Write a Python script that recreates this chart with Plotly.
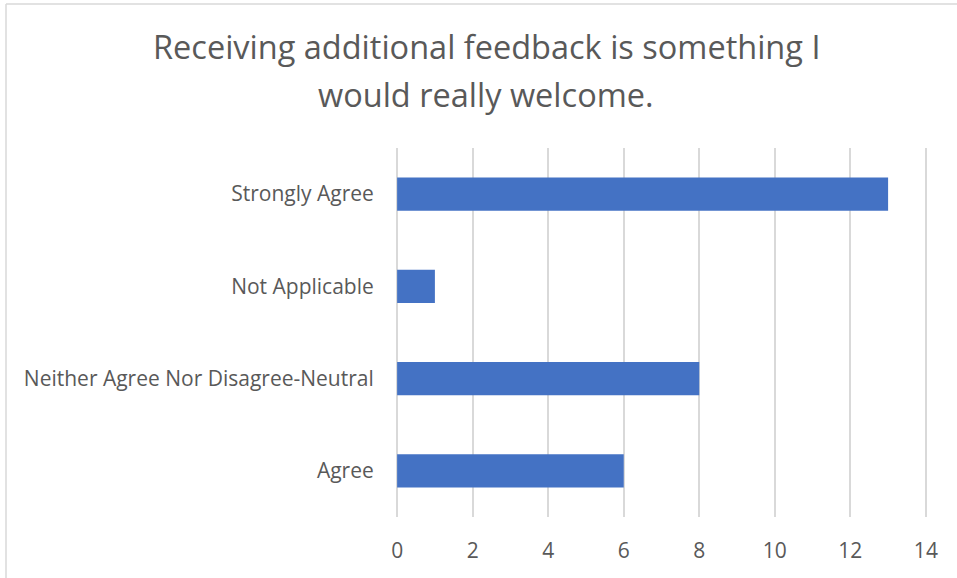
import plotly.graph_objects as go

categories = ["Agree", "Neither Agree Nor Disagree-Neutral", "Not Applicable", "Strongly Agree"]
counts = [6, 8, 1, 13]
x_ticks = [0, 2, 4, 6, 8, 10, 12, 14]
title_lines = ["Receiving additional feedback is something I", "would really welcome."]

W, H = 957, 578
FONT = "Open Sans"
GRAY = "#595959"
L, R, T, B = 396, 30, 148, 61
PW, PH = W - L - R, H - T - B

fig = go.Figure(go.Bar(
    x=counts, y=categories, orientation="h",
    marker=dict(color="#4472C4", line=dict(width=0)),
))

annotations = []
for i, line in enumerate(title_lines):
    yc = 47 + 47 * i
    annotations.append(dict(
        text=line, showarrow=False, xref="paper", yref="paper",
        x=(486 - L) / PW, xanchor="center",
        y=(H - B - yc) / PH, yanchor="middle",
        font=dict(family=FONT, size=32.5, color=GRAY),
    ))

fig.update_layout(
    width=W, height=H,
    paper_bgcolor="white", plot_bgcolor="white",
    margin=dict(l=L, r=R, t=T, b=B),
    bargap=0.64,
    showlegend=False,
    font=dict(family=FONT, color=GRAY),
    annotations=annotations,
    xaxis=dict(range=[-0.03, 14.03], tickvals=x_ticks, showgrid=True, gridcolor="#D9D9D9", gridwidth=1.5,
               zeroline=True, zerolinecolor="#D9D9D9", zerolinewidth=1.5,
               showline=False, ticks="outside", ticklen=15, tickcolor="rgba(0,0,0,0)",
               tickfont=dict(family=FONT, size=21, color=GRAY), fixedrange=True),
    yaxis=dict(categoryorder="array", categoryarray=categories, showgrid=False, zeroline=False,
               showline=False, ticks="outside", ticklen=17, tickcolor="rgba(0,0,0,0)",
               tickfont=dict(family=FONT, size=21, color=GRAY), fixedrange=True),
    shapes=[
        dict(type="line", xref="paper", yref="paper", x0=(6 - L) / PW, x1=(W + 5 - L) / PW,
             y0=(H - B - 4) / PH, y1=(H - B - 4) / PH, line=dict(color="#D9D9D9", width=1.5)),
        dict(type="line", xref="paper", yref="paper", x0=(6 - L) / PW, x1=(6 - L) / PW,
             y0=(H - B - 4) / PH, y1=(-B - 5) / PH, line=dict(color="#D9D9D9", width=1.5)),
    ],
)

fig.write_html("out.html", config={"displayModeBar": False},
               post_script="document.body.style.margin='0';")
